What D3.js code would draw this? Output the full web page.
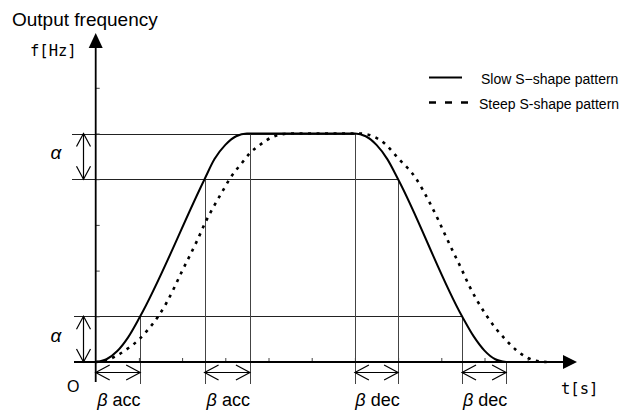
<!DOCTYPE html>
<html>
<head>
<meta charset="utf-8">
<script src="https://cdn.jsdelivr.net/npm/d3@7/dist/d3.min.js"></script>
<style>
  html, body { margin: 0; padding: 0; background: #fff; }
  svg { display: block; }
  text { font-family: "Liberation Sans", Arial, sans-serif; fill: #000; }
  .mono { font-family: "DejaVu Sans Mono", "Liberation Mono", monospace; }
</style>
</head>
<body>
<svg id="chart" width="642" height="412"></svg>
<script>
// ---- data ----
// Slow S-shape pattern: time [tick units] / output frequency [units of the y grid]
const slowT = [0, 0.25, 0.5, 0.75, 1.03, 2.52, 2.75, 3.0, 3.25, 3.5, 6.0, 6.25, 6.5, 6.75, 7.0, 8.48, 8.75, 9.0, 9.25, 9.5];
const slowF = [0, 0.06, 0.24, 0.54, 1.0, 4.0, 4.44, 4.75, 4.94, 5.0, 5.0, 4.94, 4.75, 4.44, 4.0, 1.0, 0.56, 0.25, 0.06, 0];
// Steep S-shape pattern
const steepT = [0, 0.22, 0.49, 0.75, 1.01, 1.22, 1.44, 1.63, 1.82, 2.0, 2.18, 2.36, 2.53, 2.72, 2.95, 3.11, 3.38, 3.57, 3.8, 4.11, 4.5,
                6.1, 6.58, 7.04, 7.39, 7.74, 7.93, 8.09, 8.28, 8.47, 8.64, 8.82, 9.03, 9.24, 9.46, 9.71, 9.98, 10.28, 10.44];
const steepF = [0, 0.03, 0.14, 0.3, 0.5, 0.72, 0.99, 1.28, 1.63, 1.99, 2.33, 2.68, 3.04, 3.38, 3.76, 4.02, 4.35, 4.57, 4.75, 4.93, 5.0,
                5.0, 4.86, 4.42, 4.05, 3.47, 3.11, 2.78, 2.4, 2.03, 1.68, 1.36, 1.04, 0.76, 0.52, 0.28, 0.1, 0.01, 0];
// tick marks
const xTicks = [1, 2, 3, 4, 5, 6, 7, 8, 9, 10];
const yTicks = [1, 2, 3, 4, 5, 6];
// vertical guide lines: time and the frequency level they start from
const guideT = [1.03, 2.52, 3.57, 6, 7, 8.48, 9.5];
const guideF = [1, 4, 5, 5, 4, 1, 0];
// horizontal guide lines: level and end time
const levelF = [5, 4, 1];
const levelEndT = [6, 7, 8.48];
// alpha bands (low, high)
const alphaLow = [4, 0];
const alphaHigh = [5, 1];
// beta spans
const betaStart = [0, 2.52, 6, 8.48];
const betaEnd = [1.03, 3.57, 7, 9.5];
const betaLabel = ["acc", "acc", "dec", "dec"];
// legend
const legendNames = ["Slow S\u2212shape pattern", "Steep S-shape pattern"];

// ---- drawing ----
const svg = d3.select("#chart");
const x = d3.scaleLinear().domain([0, 10]).range([95.7, 527.7]);
const y = d3.scaleLinear().domain([0, 5]).range([362, 133.5]);

const x0 = x(0), y0 = y(0);
const guideBottom = 384;

// horizontal guide lines
levelF.forEach((f, i) => {
  const startX = f >= 4 ? 72 : 74;
  svg.append("line")
    .attr("x1", startX).attr("x2", x(levelEndT[i]))
    .attr("y1", Math.round(y(f)) + 0.5).attr("y2", Math.round(y(f)) + 0.5)
    .attr("stroke", "#222").attr("stroke-width", 1);
});

// vertical guide lines
guideT.forEach((t, i) => {
  svg.append("line")
    .attr("x1", Math.round(x(t)) + 0.5).attr("x2", Math.round(x(t)) + 0.5)
    .attr("y1", y(guideF[i])).attr("y2", guideBottom)
    .attr("stroke", "#444").attr("stroke-width", 1);
});

// ticks via d3 axes
const xAxis = svg.append("g").attr("transform", `translate(0,${y0})`)
  .call(d3.axisBottom(x).tickValues(xTicks).tickSize(-4).tickFormat(""));
xAxis.select(".domain").remove();
xAxis.selectAll(".tick line").attr("stroke", "#444");

const yAxis = svg.append("g").attr("transform", `translate(${x0},0)`)
  .call(d3.axisLeft(y).tickValues(yTicks).tickSize(-4).tickFormat(""));
yAxis.select(".domain").remove();
yAxis.selectAll(".tick line").attr("stroke", "#444");

// axes lines with arrows
svg.append("line").attr("x1", 74).attr("x2", 565).attr("y1", y0).attr("y2", y0)
  .attr("stroke", "#000").attr("stroke-width", 1.8);
svg.append("path").attr("d", `M577,${y0} L563,${y0 - 7} L563,${y0 + 7} Z`).attr("fill", "#000");
svg.append("line").attr("x1", x0).attr("x2", x0).attr("y1", 46).attr("y2", 382)
  .attr("stroke", "#000").attr("stroke-width", 1.8);
svg.append("path").attr("d", `M${x0},33 L${x0 - 7},48 L${x0 + 7},48 Z`).attr("fill", "#000");

// alpha double arrows
const ax = 83.5;
alphaLow.forEach((lo, i) => {
  const yt = y(alphaHigh[i]), yb = y(lo);
  const g = svg.append("g").attr("stroke", "#000").attr("stroke-width", 1.2).attr("fill", "none");
  g.append("line").attr("x1", ax).attr("x2", ax).attr("y1", yt).attr("y2", yb);
  g.append("path").attr("d", `M${ax - 7},${yt + 13} L${ax},${yt} L${ax + 7},${yt + 13}`);
  g.append("path").attr("d", `M${ax - 7},${yb - 13} L${ax},${yb} L${ax + 7},${yb - 13}`);
  svg.append("text").attr("x", 56).attr("y", (yt + yb) / 2 + 3)
    .attr("text-anchor", "middle").attr("font-size", 19).attr("font-style", "italic")
    .text("\u03b1");
});

// beta double arrows
const by = 372.5;
betaStart.forEach((t0, i) => {
  const xa = x(t0), xb = x(betaEnd[i]);
  const g = svg.append("g").attr("stroke", "#000").attr("stroke-width", 1.2).attr("fill", "none");
  g.append("line").attr("x1", xa).attr("x2", xb).attr("y1", by).attr("y2", by);
  g.append("path").attr("d", `M${xa + 14},${by - 7.5} L${xa},${by} L${xa + 14},${by + 7.5}`);
  g.append("path").attr("d", `M${xb - 14},${by - 7.5} L${xb},${by} L${xb - 14},${by + 7.5}`);
  const tx = svg.append("text").attr("x", (xa + xb) / 2 + 1).attr("y", 406)
    .attr("text-anchor", "middle").attr("font-size", 18);
  tx.append("tspan").attr("font-style", "italic").text("\u03b2");
  tx.append("tspan").text(" " + betaLabel[i]);
});

// curves
const line = d3.line().x(d => x(d[0])).y(d => y(d[1])).curve(d3.curveMonotoneX);
const slowData = slowT.map((t, i) => [t, slowF[i]]);
const steepData = steepT.map((t, i) => [t, steepF[i]]);

svg.append("path").datum(steepData).attr("d", line)
  .attr("fill", "none").attr("stroke", "#000").attr("stroke-width", 2.6)
  .attr("stroke-dasharray", "3,5.5");
svg.append("path").datum(slowData).attr("d", line)
  .attr("fill", "none").attr("stroke", "#000").attr("stroke-width", 2);

// labels
svg.append("text").attr("x", 12).attr("y", 26).attr("font-size", 19).text("Output frequency");
svg.append("text").attr("class", "mono").attr("x", 30).attr("y", 56).attr("font-size", 15.5).text("f[Hz]");
svg.append("text").attr("class", "mono").attr("x", 561).attr("y", 394).attr("font-size", 15.5).text("t[s]");
svg.append("text").attr("x", 67).attr("y", 392).attr("font-size", 16).text("O");

// legend
const legY = [77.5, 102.5];
const legDash = [null, "7,9"];
const legW = [2, 2.6];
legendNames.forEach((name, i) => {
  svg.append("line").attr("x1", 429).attr("x2", i === 0 ? 462 : 469)
    .attr("y1", legY[i]).attr("y2", legY[i])
    .attr("stroke", "#000").attr("stroke-width", legW[i])
    .attr("stroke-dasharray", legDash[i]);
  svg.append("text").attr("x", i === 0 ? 481 : 479).attr("y", legY[i] + 6)
    .attr("font-size", 14).text(name);
});
</script>
</body>
</html>
